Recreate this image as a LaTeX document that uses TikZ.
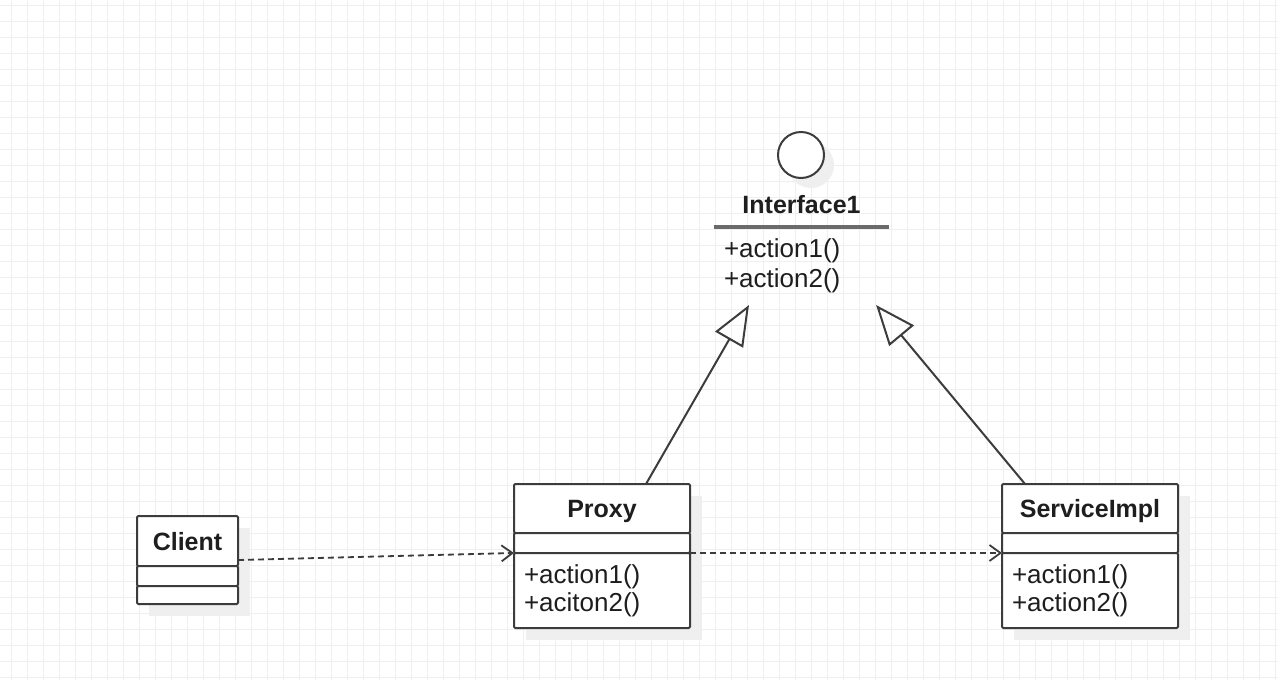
\documentclass[tikz,border=0pt]{standalone}
\usepackage{fontspec}
\setmainfont{Liberation Sans}
\usepackage{tikz}
\usetikzlibrary{
    arrows.meta,
    positioning,
    calc,
    backgrounds
}

\definecolor{umlline}{HTML}{3C3C3C}
\definecolor{umltext}{HTML}{1E1E1E}
\definecolor{gridgray}{HTML}{EFEFEF}
\definecolor{shadowgray}{HTML}{EFEFEF}
\definecolor{sepgray}{HTML}{6A6A6A}

\begin{document}
\begin{tikzpicture}[
  x=0.5pt,
  y=-0.5pt,
  every node/.style={text=umltext},
  classtitle/.style={
    draw=umlline,
    fill=white,
    line width=1pt,
    rounded corners=0.6pt,
    outer sep=0pt,
    font=\fontsize{12.5}{15}\selectfont\bfseries,
    text height=9pt,
    text depth=0pt,
    minimum width=88pt,
    minimum height=24.5pt,
    inner sep=0pt
  },
  classattr/.style={
    classtitle,
    font=\fontsize{13}{15}\selectfont,
    minimum height=10pt
  },
  classmeth/.style={
    classattr,
    align=left,
    text height=,
    text depth=,
    text width=78pt,
    inner xsep=5pt,
    minimum height=37.5pt,
    font=\fontsize{13}{14}\selectfont
  },
  ifacebox/.style={
    outer sep=0pt,
    inner sep=0pt,
    minimum width=87.5pt
  },
  realize/.style={-{Triangle[open,length=20pt,width=16pt]}, draw=umlline, line width=1pt},
  depend/.style={-{Straight Barb[length=5.5pt,width=8pt]}, draw=umlline, line width=0.9pt,
    dash pattern=on 3pt off 2pt},
  sepline/.style={draw=sepgray, line width=1.6pt},
  gridline/.style={draw=gridgray, line width=0.5pt},
  shadowbox/.style={fill=shadowgray}
]
  \useasboundingbox (0,0) rectangle (1278,680);

  % Interface with its lollipop and operations.
  \node[draw=umlline, fill=white, line width=1pt, circle, minimum size=23pt, inner sep=0pt] (ifcircle) at (801,155) {};
  \node[ifacebox, minimum height=23pt, text height=9pt, text depth=0pt,
        font=\fontsize{12.5}{15}\selectfont\bfseries] (iface) at (801.5,204) {Interface1};
  \node[ifacebox, below=0pt of iface, minimum height=39pt, align=left, text width=77.5pt, inner xsep=5pt,
        font=\fontsize{13}{15}\selectfont] (ifmeth) {+action1()\\+action2()};
  \draw[sepline] (iface.south west) -- (iface.south east);

  % Client.
  \node[classtitle, minimum width=50.5pt, minimum height=25pt] (client) at (187.5,541) {Client};
  \node[classattr, minimum width=50.5pt, below=0pt of client] (clientattr) {};
  \node[classattr, minimum width=50.5pt, minimum height=9pt, below=0pt of clientattr] (clientmeth) {};

  % Proxy.
  \node[classtitle] (proxy) at (602,508.5) {Proxy};
  \node[classattr, below=0pt of proxy] (proxyattr) {};
  \node[classmeth, below=0pt of proxyattr] (proxymeth) {+action1()\\+aciton2()};

  % Real subject.
  \node[classtitle] (service) at (1090,508.5) {ServiceImpl};
  \node[classattr, below=0pt of service] (serviceattr) {};
  \node[classmeth, below=0pt of serviceattr] (servicemeth) {+action1()\\+action2()};

  % Realization of the interface.
  \draw[realize] ($(proxy.north)+(22pt,0)$) -- ($(ifmeth.south west)!0.2!(ifmeth.south east)$);
  \draw[realize] ($(service.north west)+(11.5pt,0)$) -- ($(ifmeth.south west)!0.926!(ifmeth.south east)$);

  % Dependencies.
  \draw[depend] ($(client.south east)+(0,3pt)$) -- (proxyattr.south west);
  \draw[depend] (proxyattr.south east) -- (serviceattr.south west);

  % Grid paper and soft shadows.
  \begin{scope}[on background layer]
    \fill[white] (0,0) rectangle (1278,680);
    \foreach \gx in {11,27,...,1275}
      \draw[gridline] (\gx,0) -- (\gx,680);
    \foreach \gy in {5,21,...,677}
      \draw[gridline] (0,\gy) -- (1278,\gy);
    \fill[shadowbox] ($(ifcircle.center)+(5pt,-5pt)$) circle (11.5pt);
    \fill[shadowbox] ($(client.north west)+(6pt,-6pt)$) rectangle ($(clientmeth.south east)+(6pt,-6pt)$);
    \fill[shadowbox] ($(proxy.north west)+(6pt,-6pt)$) rectangle ($(proxymeth.south east)+(6pt,-6pt)$);
    \fill[shadowbox] ($(service.north west)+(6pt,-6pt)$) rectangle ($(servicemeth.south east)+(6pt,-6pt)$);
  \end{scope}
\end{tikzpicture}
\end{document}
